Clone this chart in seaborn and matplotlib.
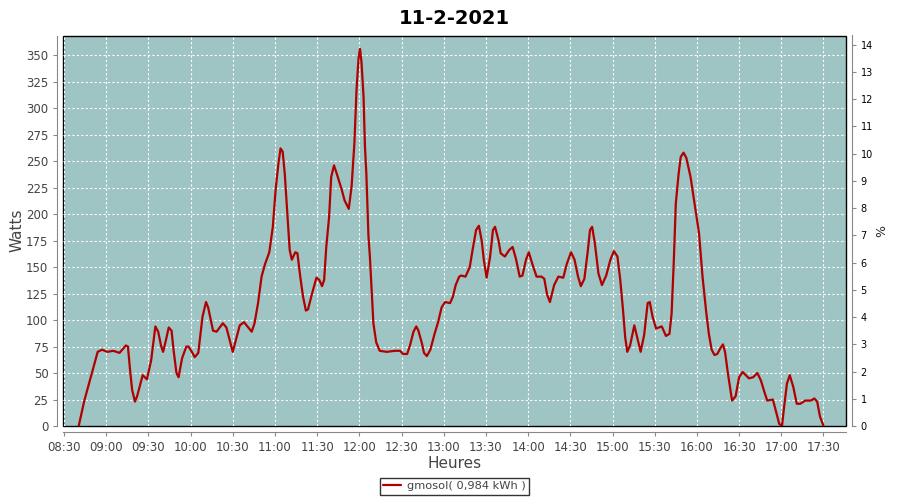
import matplotlib
matplotlib.use("Agg")
import matplotlib.pyplot as plt
import matplotlib.dates as mdates
import pandas as pd
import seaborn as sns

heures = [
    "08:40:30", "08:44:30", "08:50:30", "08:54:00", "08:57:00", "09:01:00", "09:05:00", "09:09:30",
    "09:14:00", "09:15:30", "09:17:00", "09:18:30", "09:20:30", "09:22:00", "09:26:00", "09:29:00",
    "09:32:00", "09:35:00", "09:37:00", "09:39:00", "09:40:30", "09:42:30", "09:44:30", "09:46:30",
    "09:48:00", "09:50:00", "09:51:30", "09:54:00", "09:57:00", "09:58:30", "10:00:30", "10:03:00",
    "10:05:30", "10:08:30", "10:11:00", "10:12:30", "10:16:00", "10:18:30", "10:23:00", "10:25:30",
    "10:30:00", "10:35:00", "10:38:00", "10:43:30", "10:45:30", "10:48:00", "10:50:30", "10:53:00",
    "10:56:00", "10:58:30", "11:00:30", "11:02:30", "11:04:00", "11:05:30", "11:07:00", "11:09:00",
    "11:10:30", "11:12:00", "11:14:30", "11:16:00", "11:18:00", "11:20:00", "11:22:00", "11:23:30",
    "11:26:00", "11:29:30", "11:31:30", "11:33:30", "11:35:00", "11:36:30", "11:38:30", "11:40:00",
    "11:42:00", "11:44:00", "11:47:30", "11:49:30", "11:52:30", "11:54:30", "11:56:30", "11:58:00",
    "11:59:30", "12:00:30", "12:01:30", "12:03:00", "12:04:00", "12:05:00", "12:06:30", "12:07:30",
    "12:09:00", "12:10:00", "12:12:00", "12:14:30", "12:19:30", "12:25:30", "12:29:00", "12:31:00",
    "12:34:00", "12:36:00", "12:38:30", "12:40:30", "12:42:00", "12:44:30", "12:46:00", "12:48:00",
    "12:50:30", "12:53:30", "12:56:00", "12:58:30", "13:01:00", "13:04:30", "13:06:30", "13:08:30",
    "13:11:00", "13:12:30", "13:15:30", "13:18:30", "13:20:30", "13:23:00", "13:25:00", "13:27:00",
    "13:28:30", "13:30:30", "13:33:00", "13:35:00", "13:36:30", "13:39:00", "13:40:30", "13:43:30",
    "13:46:30", "13:49:00", "13:51:30", "13:54:00", "13:56:00", "13:58:30", "14:00:30", "14:03:00",
    "14:06:00", "14:09:30", "14:11:30", "14:13:30", "14:15:30", "14:18:30", "14:21:30", "14:25:00",
    "14:27:30", "14:30:30", "14:33:00", "14:35:30", "14:37:30", "14:40:00", "14:42:30", "14:44:00",
    "14:45:30", "14:47:30", "14:50:00", "14:52:30", "14:55:30", "14:58:30", "15:01:00", "15:03:30",
    "15:05:30", "15:07:30", "15:09:00", "15:10:30", "15:12:30", "15:15:30", "15:18:00", "15:20:00",
    "15:22:30", "15:25:00", "15:26:30", "15:28:30", "15:31:00", "15:35:00", "15:38:00", "15:40:30",
    "15:42:00", "15:43:30", "15:45:00", "15:47:00", "15:48:30", "15:50:30", "15:52:30", "15:55:30",
    "15:58:00", "16:01:30", "16:04:00", "16:06:30", "16:08:30", "16:10:30", "16:12:30", "16:14:30",
    "16:16:30", "16:18:30", "16:20:00", "16:22:00", "16:25:00", "16:27:30", "16:30:00", "16:32:30",
    "16:37:00", "16:40:00", "16:43:00", "16:45:30", "16:48:00", "16:50:00", "16:54:00", "16:56:00",
    "16:58:30", "17:00:30", "17:02:00", "17:04:00", "17:06:00", "17:08:30", "17:11:00", "17:13:30",
    "17:17:00", "17:21:00", "17:23:30", "17:25:30", "17:27:30", "17:30:00",
]

# puissance en watts
watts = [
    0, 24, 53, 70, 72, 70, 71, 69,
    76, 75, 53, 34, 23, 28, 48, 44,
    62, 94, 89, 76, 70, 81, 93, 90,
    71, 50, 46, 64, 75, 75, 71, 65,
    69, 103, 117, 112, 90, 89, 97, 93,
    70, 95, 98, 89, 97, 116, 141, 153,
    164, 188, 223, 248, 262, 259, 238, 197,
    166, 157, 164, 163, 141, 122, 109, 110,
    123, 140, 138, 132, 138, 169, 197, 235,
    246, 238, 223, 213, 205, 226, 267, 317,
    348, 356, 344, 311, 264, 238, 179, 160,
    122, 97, 79, 71, 70, 71, 71, 68,
    68, 76, 89, 94, 90, 78, 69, 66,
    72, 87, 98, 112, 117, 116, 122, 133,
    141, 142, 141, 150, 166, 185, 189, 175,
    157, 140, 160, 185, 188, 175, 163, 160,
    166, 169, 157, 141, 142, 157, 164, 153,
    141, 141, 139, 124, 117, 133, 141, 140,
    153, 164, 157, 141, 132, 139, 166, 185,
    188, 172, 144, 133, 142, 157, 165, 160,
    138, 109, 84, 70, 76, 95, 81, 70,
    86, 116, 117, 103, 92, 94, 85, 87,
    106, 153, 210, 238, 254, 258, 253, 235,
    213, 182, 141, 109, 87, 72, 67, 68,
    73, 77, 70, 50, 24, 28, 46, 51,
    45, 46, 50, 43, 32, 24, 25, 15,
    2, 0, 18, 40, 48, 37, 21, 21,
    24, 24, 26, 23, 9, 0,
]

serie = "gmosol( 0,984 kWh )"
titre = "11-2-2021"
pct_ticks = list(range(0, 15))

df = pd.DataFrame({
    "heure": pd.to_datetime("2021-02-11 " + pd.Series(heures)),
    "watts": watts,
    "serie": serie,
})

sns.set_style("ticks")
plt.rcParams["font.family"] = ["DejaVu Sans"]

fond = "#9fc4c4"
gris = "#444444"

fig = plt.figure(figsize=(9, 5), dpi=100)
ax = fig.add_axes([0.07, 0.148, 0.87, 0.781])
ax.set_facecolor(fond)

sns.lineplot(data=df, x="heure", y="watts", hue="serie", palette=["#b00000"],
             linewidth=1.6, ax=ax, legend=True)

ax.set_xlim(pd.Timestamp("2021-02-11 08:29:20"), pd.Timestamp("2021-02-11 17:46:00"))
ax.set_ylim(0, 368.6)
ax.set_yticks(range(0, 351, 25))
ax.xaxis.set_major_locator(mdates.MinuteLocator(byminute=[0, 30]))
ax.xaxis.set_major_formatter(mdates.DateFormatter("%H:%M"))

ax.grid(True, color="white", linestyle=(0, (2, 2)), linewidth=0.8)
ax.set_axisbelow(True)

for s in ["top", "right"]:
    ax.spines[s].set_visible(False)
for s in ["left", "bottom"]:
    ax.spines[s].set_position(("outward", 4))
    ax.spines[s].set_color("#888888")
ax.patch.set_edgecolor("black")
ax.patch.set_linewidth(1.0)

ax.tick_params(axis="both", colors="#888888", labelcolor=gris, labelsize=8.5, length=3)
ax.set_xlabel("Heures", fontsize=11, color=gris, labelpad=2)
ax.set_ylabel("Watts", fontsize=11, color=gris, labelpad=1)
ax.set_title(titre, fontsize=14, fontweight="bold", color="black", pad=8)

ax2 = ax.twinx()
ax2.set_ylim(0, 14.34)
ax2.set_yticks(pct_ticks)
for s in ["top", "left", "bottom"]:
    ax2.spines[s].set_visible(False)
ax2.spines["right"].set_position(("outward", 4))
ax2.spines["right"].set_color("#888888")
ax2.tick_params(axis="y", colors="#888888", labelcolor="black", labelsize=7, length=3)
ax2.set_ylabel("%", fontsize=9, labelpad=2)

leg = ax.legend(loc="upper center", bbox_to_anchor=(0.5, -0.118), frameon=True,
                fancybox=False, edgecolor="black", fontsize=8.2, handlelength=1.6,
                borderpad=0.3, handletextpad=0.5)
leg.get_frame().set_linewidth(1.0)
for t in leg.get_texts():
    t.set_color(gris)

fig.savefig("out.png", dpi=100)
